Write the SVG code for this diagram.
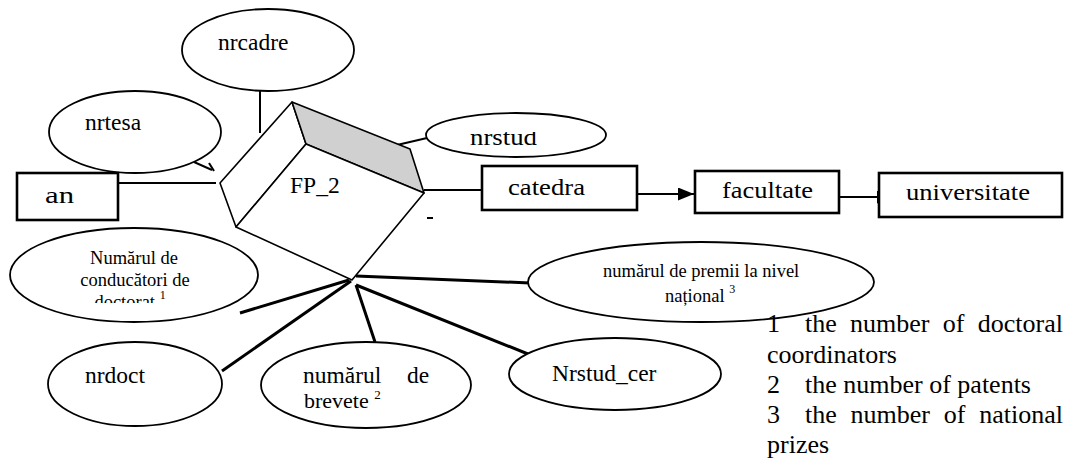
<svg xmlns="http://www.w3.org/2000/svg" width="1071" height="462" viewBox="0 0 1071 462">
<style>
text{font-family:'Liberation Serif','Times New Roman',serif;fill:#000}
.el{fill:#fff;stroke:#000;stroke-width:1.8}
.bx{fill:#fff;stroke:#000;stroke-width:2.6}
.ln{stroke:#000;stroke-width:2;fill:none}
.lt{stroke:#000;stroke-width:3;fill:none}
.cu{stroke:#000;stroke-width:1.6;fill:#fff;stroke-linejoin:round}
.lg{font-size:26px}
.lb{font-size:23.5px}
.bl{font-size:24px}
.sm{font-size:18.5px}
</style>
<defs>
<marker id="ah" markerWidth="16" markerHeight="13" refX="16" refY="6.5" orient="auto" markerUnits="userSpaceOnUse">
<path d="M0,0 L16,6.5 L0,13 Z" fill="#000"/>
</marker>
<clipPath id="c1"><rect x="0" y="0" width="300" height="303"/></clipPath>
<clipPath id="c2"><rect x="250" y="388" width="240" height="22"/></clipPath>
<clipPath id="c3"><rect x="420" y="132" width="200" height="30"/></clipPath>
</defs>
<g id="connectors">
<line class="ln" x1="260" y1="91" x2="260" y2="133"/>
<polyline class="ln" points="194,162 212,170"/>
<line class="ln" x1="209" y1="163" x2="214" y2="171"/>
<line class="ln" x1="118" y1="183" x2="216" y2="183"/>
<line class="ln" x1="397" y1="145" x2="427" y2="138"/>
<line class="ln" x1="424" y1="190" x2="482" y2="190"/>
<line class="ln" x1="427" y1="218" x2="433" y2="218"/>
<line class="ln" x1="637" y1="194" x2="694" y2="194" marker-end="url(#ah)"/>
<line class="ln" x1="834" y1="197" x2="893" y2="197" marker-end="url(#ah)"/>
<line class="lt" x1="240" y1="313" x2="349" y2="280"/>
<line class="lt" x1="222" y1="371" x2="351" y2="281"/>
<line class="lt" x1="375" y1="342" x2="356" y2="285"/>
<line class="lt" x1="356" y1="285" x2="528" y2="354"/>
<line class="lt" x1="356" y1="276" x2="530" y2="283"/>
</g>
<g id="nrcadre">
<ellipse class="el" cx="268" cy="50" rx="86" ry="41"/>
<text class="lb" x="218" y="50">nrcadre</text>
</g>
<g id="nrtesa">
<ellipse class="el" cx="135" cy="132" rx="86" ry="41"/>
<text class="lb" x="85" y="130">nrtesa</text>
</g>
<g id="an">
<rect class="bx" x="17" y="173" width="101" height="47"/>
<text class="bl" x="45" y="203" textLength="29" lengthAdjust="spacingAndGlyphs">an</text>
</g>
<g id="FP_2">
<polygon class="cu" points="292,102 306,144 236,227 220,183"/>
<polygon class="cu" points="292,102 410,149 424,193 306,144" style="fill:#d0d0d0"/>
<polygon class="cu" points="306,144 424,193 352,280 236,227"/>
<text class="lb" x="290" y="193">FP_2</text>
</g>
<g id="nrstud">
<ellipse class="el" cx="516" cy="135" rx="90" ry="22"/>
<text class="bl" x="470" y="145" textLength="67" lengthAdjust="spacingAndGlyphs" clip-path="url(#c3)">nrstud</text>
</g>
<g id="catedra">
<rect class="bx" x="482" y="166" width="155" height="44"/>
<text class="bl" x="508" y="195" textLength="77" lengthAdjust="spacingAndGlyphs">catedra</text>
</g>
<g id="facultate">
<rect class="bx" x="695" y="171" width="144" height="42"/>
<text class="bl" x="722" y="198" textLength="91" lengthAdjust="spacingAndGlyphs">facultate</text>
</g>
<g id="universitate">
<rect class="bx" x="879" y="173" width="183" height="44"/>
<text class="bl" x="906" y="200" textLength="124" lengthAdjust="spacingAndGlyphs">universitate</text>
</g>
<g id="numarul_conducatori">
<ellipse class="el" cx="134" cy="275" rx="124" ry="47"/>
<text class="sm" text-anchor="middle" clip-path="url(#c1)"><tspan x="134" y="264">Numărul de</tspan><tspan x="135" y="286">conducători de</tspan><tspan x="130" y="308">doctorat </tspan><tspan font-size="12" dy="-9">1</tspan></text>
</g>
<g id="nrdoct">
<ellipse class="el" cx="135" cy="384" rx="87" ry="42"/>
<text class="lb" x="85" y="383">nrdoct</text>
</g>
<g id="numarul_brevete">
<ellipse class="el" cx="366" cy="385" rx="105" ry="43"/>
<text class="lb"><tspan x="303" y="383">numărul</tspan><tspan x="407" y="383">de</tspan></text>
<text font-size="22" clip-path="url(#c2)"><tspan x="304" y="408">brevete </tspan><tspan font-size="13" dy="-9">2</tspan></text>
</g>
<g id="Nrstud_cer">
<ellipse class="el" cx="615" cy="374" rx="106" ry="36"/>
<text class="lb" x="552" y="381">Nrstud_cer</text>
</g>
<g id="numarul_premii">
<ellipse class="el" cx="701" cy="282" rx="173" ry="40"/>
<text class="sm"><tspan x="603" y="277">numărul de premii la nivel</tspan><tspan x="665" y="302">național </tspan><tspan font-size="12" dy="-9">3</tspan></text>
</g>
<g id="legend">
<text class="lg" x="767" y="332">1</text>
<text class="lg" x="805" y="332" word-spacing="6.8">the number of doctoral</text>
<text class="lg" x="767" y="363">coordinators</text>
<text class="lg" x="767" y="393">2</text>
<text class="lg" x="805" y="393">the number of patents</text>
<text class="lg" x="767" y="423">3</text>
<text class="lg" x="805" y="423" word-spacing="7.3">the number of national</text>
<text class="lg" x="767" y="453">prizes</text>
</g>
</svg>
